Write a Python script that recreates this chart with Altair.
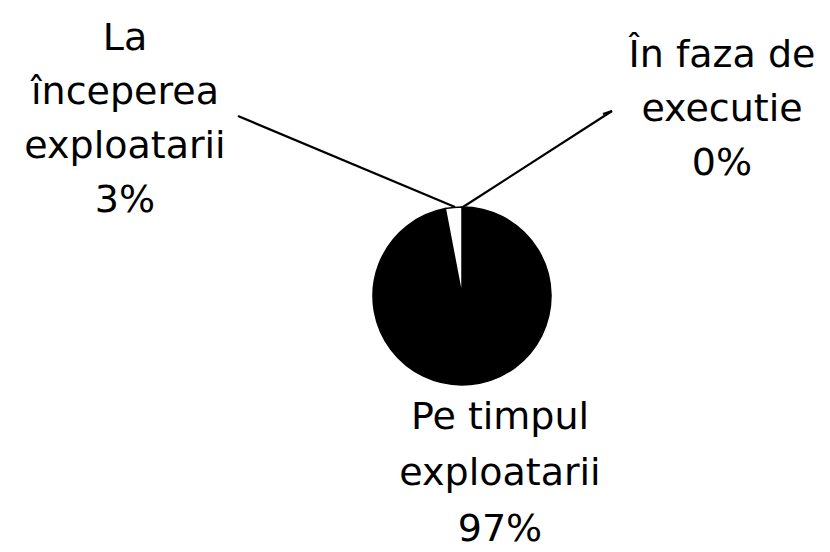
import altair as alt
import pandas as pd

# ---- data ----
categories = ["În faza de executie", "Pe timpul exploatarii", "La începerea exploatarii"]
values = [0, 97, 3]
order = [0, 1, 2]
slice_colors = ["#ffffff", "#000000", "#ffffff"]

label_text = [
    "În faza de\nexecutie\n0%",
    "Pe timpul\nexploatarii\n97%",
    "La\nînceperea\nexploatarii\n3%",
]

pie_df = pd.DataFrame({"cat": categories, "val": values, "ord": order})

FONT = "DejaVu Sans"
FS = 38
LH = 54

cx, cy, R = 454, 288, 89

pie = alt.Chart(pie_df).mark_arc(
    outerRadius=R, stroke="#000000", strokeWidth=1.5
).encode(
    theta=alt.Theta("val:Q", stack=True),
    order=alt.Order("ord:Q"),
    color=alt.Color("cat:N", scale=alt.Scale(domain=categories, range=slice_colors), legend=None),
    x=alt.value(cx),
    y=alt.value(cy),
)

def label(i, x, y, lh=LH):
    df = pd.DataFrame({"t": [label_text[i]]})
    return alt.Chart(df).mark_text(
        font=FONT, fontSize=FS, lineHeight=lh, lineBreak="\n",
        align="center", baseline="alphabetic", color="#000000"
    ).encode(text="t:N", x=alt.value(x), y=alt.value(y))

lab_right = label(0, 714, 59)
lab_bottom = label(1, 492, 421, 56)
lab_left = label(2, 117, 42)

line_df = pd.DataFrame({"k": [0]})
def seg(x1, y1, x2, y2):
    return alt.Chart(line_df).mark_rule(color="#000000", strokeWidth=2.2).encode(
        x=alt.value(x1), y=alt.value(y1), x2=alt.value(x2), y2=alt.value(y2)
    )

lines = [
    seg(230, 108, 447, 199),
    seg(604, 103, 455, 199),
    seg(595, 106, 604, 103),
]

chart = alt.layer(pie, *lines, lab_right, lab_bottom, lab_left).properties(
    width=814, height=544, padding=0, autosize=alt.AutoSizeParams(type="none"),
    background="#ffffff",
).configure_view(stroke=None)

chart.save("out.html", embed_options={"renderer": "svg", "actions": False})
